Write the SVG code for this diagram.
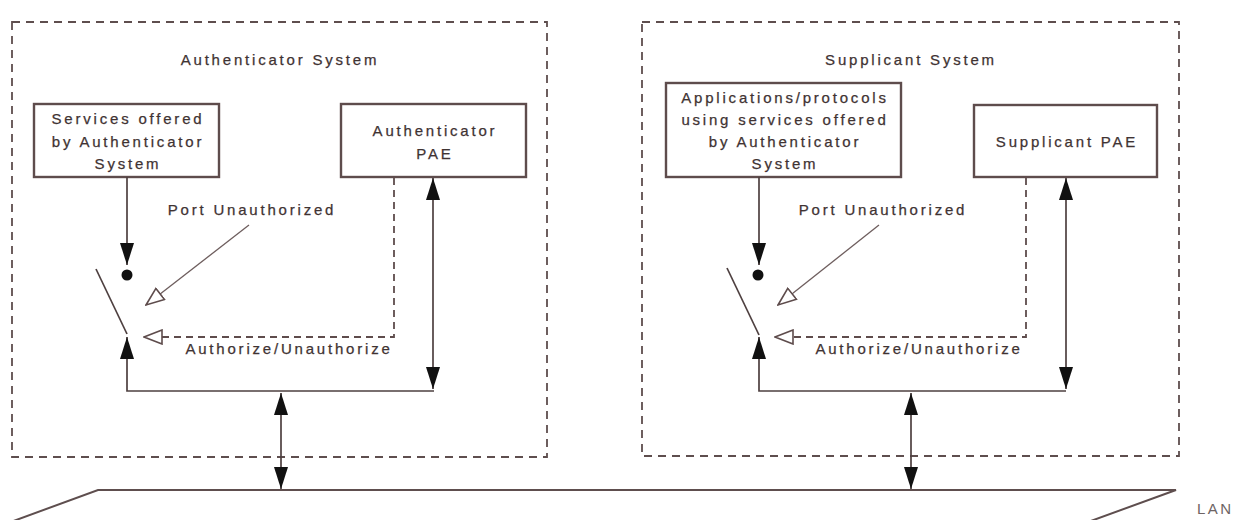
<svg xmlns="http://www.w3.org/2000/svg" width="1236" height="520" viewBox="0 0 1236 520">
<style>
  text { font-family: "Liberation Sans", Arial, sans-serif; font-size: 15px; letter-spacing: 2.8px; fill: #3f3333; stroke: #3f3333; stroke-width: 0.25; text-anchor: middle; }
  .sys { fill: none; stroke: #5e4e4e; stroke-width: 1.8; stroke-dasharray: 8 6; }
  .box { fill: #fff; stroke: #5e4c4c; stroke-width: 2.4; }
  .ln { fill: none; stroke: #4e4040; stroke-width: 1.7; }
  .dl { fill: none; stroke: #5e4c4c; stroke-width: 1.8; stroke-dasharray: 7 5; }
  .thin { fill: none; stroke: #6e5e5e; stroke-width: 1.3; }
  .lan { fill: none; stroke: #5e4e4e; stroke-width: 2; }
  .lanlbl { font-size: 15px; fill: #6e6464; stroke: none; text-anchor: start; letter-spacing: 2.5px; }
</style>
<defs>
  <marker id="ah" viewBox="0 0 22 14" refX="22" refY="7" markerWidth="22" markerHeight="14" markerUnits="userSpaceOnUse" orient="auto-start-reverse">
    <path d="M0,0 L22,7 L0,14 z" fill="#111"/>
  </marker>
  <marker id="ho" viewBox="0 0 20 16" refX="19" refY="8" markerWidth="20" markerHeight="16" markerUnits="userSpaceOnUse" orient="auto">
    <path d="M1,1 L19,8 L1,15 z" fill="#fff" stroke="#5e4c4c" stroke-width="1.6"/>
  </marker>
</defs>
<rect width="1236" height="520" fill="#fff"/>

<g id="authenticator-system">
  <rect class="sys" x="12" y="22" width="535" height="435"/>
  <text x="280" y="65">Authenticator System</text>
</g>
<g id="supplicant-system">
  <rect class="sys" x="642" y="22" width="537" height="434"/>
  <text x="911" y="65">Supplicant System</text>
</g>

<g id="services">
  <rect class="box" x="34" y="104" width="185" height="73"/>
  <text x="128" y="123.5">Services offered</text>
  <text x="128" y="146.5">by Authenticator</text>
  <text x="128" y="168.5">System</text>
</g>
<g id="authenticator-pae">
  <rect class="box" x="341" y="104" width="185" height="73"/>
  <text x="435" y="135.5">Authenticator</text>
  <text x="435" y="158.5">PAE</text>
</g>
<g id="applications">
  <rect class="box" x="666" y="83" width="235" height="94"/>
  <text x="785" y="102.5">Applications/protocols</text>
  <text x="785" y="124.5">using services offered</text>
  <text x="785" y="146.5">by Authenticator</text>
  <text x="785" y="168.5">System</text>
</g>
<g id="supplicant-pae">
  <rect class="box" x="974" y="105" width="183" height="72"/>
  <text x="1067" y="146.5">Supplicant PAE</text>
</g>

<g id="switch-left">
  <circle cx="127" cy="275" r="5.5" fill="#111"/>
  <line class="ln" x1="96" y1="269" x2="127" y2="334"/>
</g>
<g id="switch-right">
  <circle cx="758" cy="275" r="5.5" fill="#111"/>
  <line class="ln" x1="727" y1="268" x2="759" y2="335"/>
</g>

<g id="lan">
  <path class="lan" d="M8,523 L98,490 L1176,490 L1088,522"/>
  <text class="lanlbl" x="1197" y="514">LAN</text>
</g>

<g id="connectors">
  <line class="ln" x1="127" y1="177" x2="127" y2="265" marker-end="url(#ah)"/>
  <polyline class="ln" points="127,337 127,391 434,391" marker-start="url(#ah)"/>
  <line class="ln" x1="433" y1="178" x2="433" y2="389" marker-start="url(#ah)" marker-end="url(#ah)"/>
  <polyline class="dl" points="394,178 394,337 144,337" marker-end="url(#ho)"/>
  <line class="thin" x1="249" y1="225" x2="146" y2="305" marker-end="url(#ho)"/>
  <line class="ln" x1="281" y1="393" x2="281" y2="489" marker-start="url(#ah)" marker-end="url(#ah)"/>
  <line class="ln" x1="759" y1="177" x2="759" y2="265" marker-end="url(#ah)"/>
  <polyline class="ln" points="759,337 759,391 1066,391" marker-start="url(#ah)"/>
  <line class="ln" x1="1066" y1="178" x2="1066" y2="389" marker-start="url(#ah)" marker-end="url(#ah)"/>
  <polyline class="dl" points="1026,178 1026,337 775,337" marker-end="url(#ho)"/>
  <line class="thin" x1="879" y1="225" x2="778" y2="305" marker-end="url(#ho)"/>
  <line class="ln" x1="911" y1="393" x2="911" y2="489" marker-start="url(#ah)" marker-end="url(#ah)"/>
</g>

<g id="labels">
  <text x="252" y="215">Port Unauthorized</text>
  <text x="883" y="215">Port Unauthorized</text>
  <text x="289" y="354">Authorize/Unauthorize</text>
  <text x="919" y="354">Authorize/Unauthorize</text>
</g>
</svg>
